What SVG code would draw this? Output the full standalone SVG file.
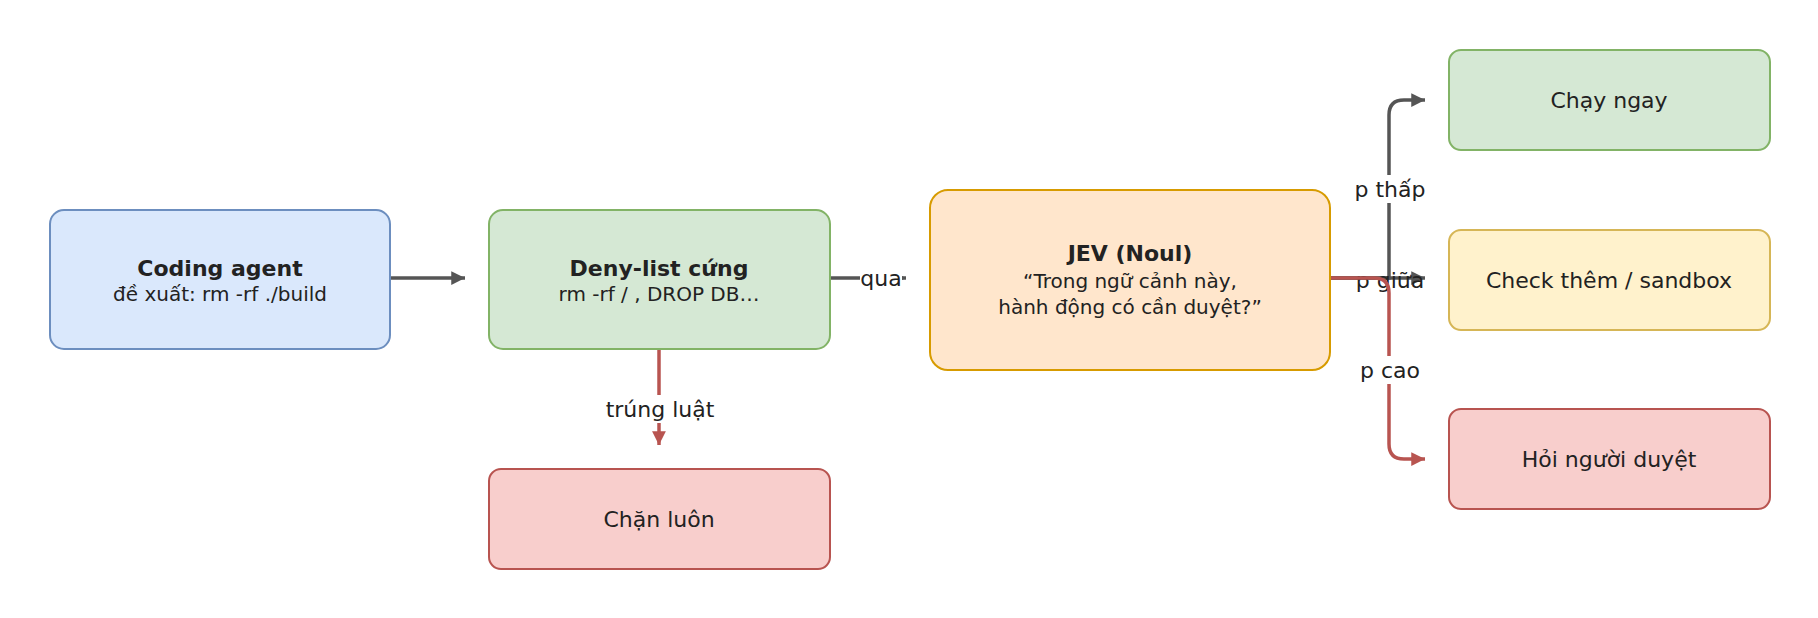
<svg xmlns="http://www.w3.org/2000/svg" width="1818" height="618" viewBox="0 0 1818 618">
<style>
text{font-family:"DejaVu Sans",sans-serif;fill:#222;text-anchor:middle}
.n{font-size:22px}.b{font-size:22px;font-weight:bold}.s{font-size:20px}
.l{font-size:22px}
.g{fill:none;stroke:#555;stroke-width:3.5}
.r{fill:none;stroke:#b85450;stroke-width:3.5}
.bg{fill:#fff}
</style>
<defs>
<marker id="ag" viewBox="0 0 10 10" refX="10" refY="5" markerWidth="6" markerHeight="6" markerUnits="userSpaceOnUse" orient="auto" style="overflow:visible"><path d="M0,0L10,5L0,10z" fill="#555" transform="scale(2.3)translate(-5.6,-2.8)"/></marker>
<marker id="ar" viewBox="0 0 10 10" refX="10" refY="5" markerWidth="6" markerHeight="6" markerUnits="userSpaceOnUse" orient="auto" style="overflow:visible"><path d="M0,0L10,5L0,10z" fill="#b85450" transform="scale(2.3)translate(-5.6,-2.8)"/></marker>
</defs>
<g id="connectors">
<path class="g" d="M390,278H465" marker-end="url(#ag)"/>
<path class="g" d="M830,278H906" marker-end="url(#ag)"/>
<rect class="bg" x="860" y="266" width="42" height="26"/><text class="l" x="881" y="286">qua</text>
<path class="r" d="M659,349V445" marker-end="url(#ar)"/>
<rect class="bg" x="600" y="395" width="118" height="28"/><text class="l" x="660" y="417">trúng luật</text>
<path class="g" d="M1330,278H1389V115Q1389,100 1404,100H1425" marker-end="url(#ag)"/>
<path class="g" d="M1330,278H1425" marker-end="url(#ag)"/>
<rect class="bg" x="1350" y="175" width="80" height="28"/><text class="l" x="1390" y="197">p thấp</text>
<text class="l" x="1390" y="288">p giữa</text>
<path class="r" d="M1330,278H1374Q1389,278 1389,293V444Q1389,459 1404,459H1425" marker-end="url(#ar)"/>
<rect class="bg" x="1355" y="356" width="70" height="28"/><text class="l" x="1390" y="378">p cao</text>
</g>
<g id="coding"><rect x="50" y="210" width="340" height="139" rx="14" fill="#dae8fc" stroke="#6c8ebf" stroke-width="2"/><text class="b" x="220" y="276">Coding agent</text><text class="s" x="220" y="301">đề xuất: rm -rf ./build</text></g>
<g id="deny"><rect x="489" y="210" width="341" height="139" rx="14" fill="#d5e8d4" stroke="#82b366" stroke-width="2"/><text class="b" x="659" y="276">Deny-list cứng</text><text class="s" x="659" y="301">rm -rf / , DROP DB…</text></g>
<g id="jev"><rect x="930" y="190" width="400" height="180" rx="18" fill="#ffe6cc" stroke="#d79b00" stroke-width="2"/><text class="b" x="1130" y="261">JEV (Noul)</text><text class="s" x="1130" y="288">“Trong ngữ cảnh này,</text><text class="s" x="1130" y="314">hành động có cần duyệt?”</text></g>
<g id="chay"><rect x="1449" y="50" width="321" height="100" rx="12" fill="#d5e8d4" stroke="#82b366" stroke-width="2"/><text class="n" x="1609" y="108">Chạy ngay</text></g>
<g id="check"><rect x="1449" y="230" width="321" height="100" rx="12" fill="#fff2cc" stroke="#d6b656" stroke-width="2"/><text class="n" x="1609" y="288">Check thêm / sandbox</text></g>
<g id="hoi"><rect x="1449" y="409" width="321" height="100" rx="12" fill="#f8cecc" stroke="#b85450" stroke-width="2"/><text class="n" x="1609" y="467">Hỏi người duyệt</text></g>
<g id="chan"><rect x="489" y="469" width="341" height="100" rx="12" fill="#f8cecc" stroke="#b85450" stroke-width="2"/><text class="n" x="659" y="527">Chặn luôn</text></g>
</svg>
